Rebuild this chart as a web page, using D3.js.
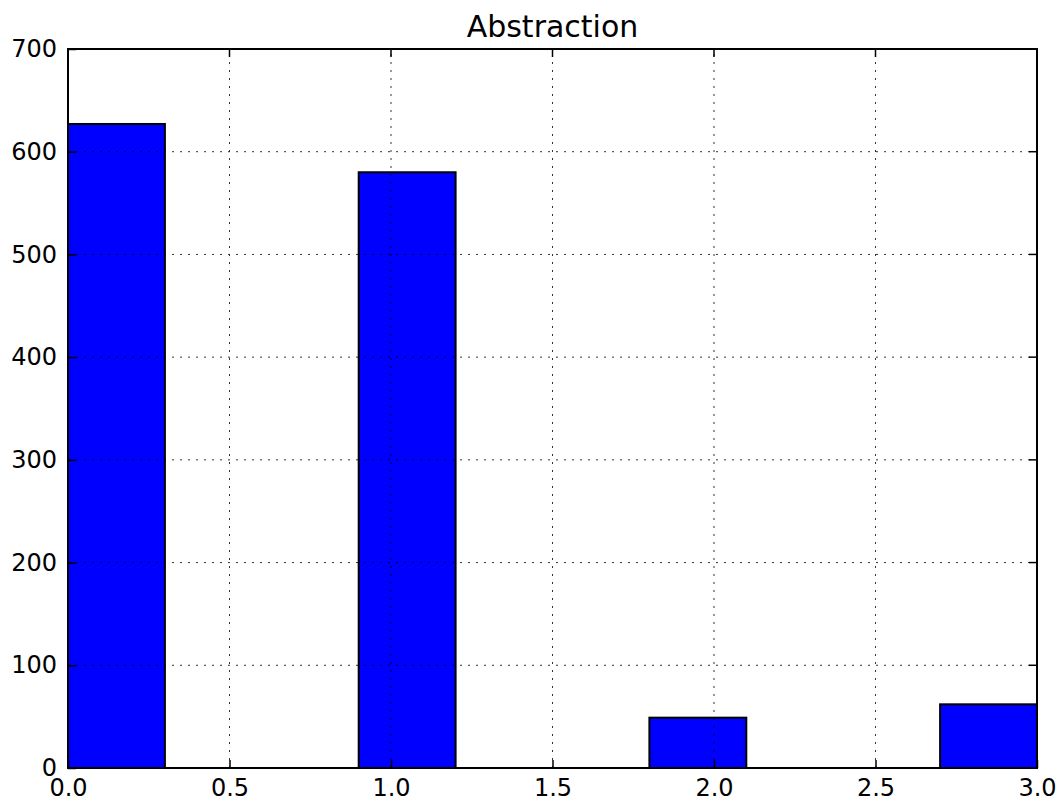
<!DOCTYPE html>
<html>
<head>
<meta charset="utf-8">
<script src="https://cdn.jsdelivr.net/npm/d3@7"></script>
<style>
  body { margin: 0; background: #fff; }
  text { font-family: "DejaVu Sans", sans-serif; fill: #000; }
</style>
</head>
<body>
<div id="chart"></div>
<script>
// histogram bins (edges) and counts
var binEdges = [0.0, 0.3, 0.6, 0.9, 1.2, 1.5, 1.8, 2.1, 2.4, 2.7, 3.0];
var counts   = [627, 0, 0, 580, 0, 0, 49, 0, 0, 62];
var xTicks   = [0.0, 0.5, 1.0, 1.5, 2.0, 2.5, 3.0];
var yTicks   = [0, 100, 200, 300, 400, 500, 600, 700];
var title    = "Abstraction";

var width = 1058, height = 801;
var margin = {top: 49, right: 21, bottom: 33, left: 68};
var tickLen = 8;

var svg = d3.select("#chart").append("svg")
    .attr("width", width)
    .attr("height", height);

var x = d3.scaleLinear().domain([0, 3]).range([margin.left, width - margin.right]);
var y = d3.scaleLinear().domain([0, 700]).range([height - margin.bottom, margin.top]);

var bins = counts.map(function(c, i) {
  return {x0: binEdges[i], x1: binEdges[i + 1], n: c};
});

// bars
svg.append("g").selectAll("rect")
    .data(bins.filter(function(d) { return d.n > 0; }))
    .enter().append("rect")
    .attr("x", function(d) { return x(d.x0); })
    .attr("y", function(d) { return y(d.n); })
    .attr("width", function(d) { return x(d.x1) - x(d.x0); })
    .attr("height", function(d) { return y(0) - y(d.n); })
    .attr("fill", "#0000ff")
    .attr("stroke", "#000")
    .attr("stroke-width", 2);

// grid (drawn above bars, classic style)
var grid = svg.append("g").attr("stroke", "#000").attr("stroke-width", 1)
    .attr("stroke-dasharray", "2,6").attr("opacity", 0.8);
grid.selectAll(".gx").data(xTicks.slice(1, -1)).enter().append("line")
    .attr("x1", function(d) { return x(d); }).attr("x2", function(d) { return x(d); })
    .attr("y1", y(0)).attr("y2", y(700));
grid.selectAll(".gy").data(yTicks.slice(1, -1)).enter().append("line")
    .attr("y1", function(d) { return y(d); }).attr("y2", function(d) { return y(d); })
    .attr("x1", x(0)).attr("x2", x(3));

// axes with inward ticks
var xAxis = d3.axisBottom(x).tickValues(xTicks).tickFormat(d3.format(".1f"))
    .tickSizeInner(-tickLen).tickSizeOuter(0).tickPadding(11);
var yAxis = d3.axisLeft(y).tickValues(yTicks).tickFormat(d3.format("d"))
    .tickSizeInner(-tickLen).tickSizeOuter(0).tickPadding(11);

var gx = svg.append("g").attr("transform", "translate(0," + y(0) + ")").call(xAxis);
var gy = svg.append("g").attr("transform", "translate(" + x(0) + ",0)").call(yAxis);
[gx, gy].forEach(function(g) {
  g.select(".domain").remove();
  g.selectAll("text").style("font-size", "24px").attr("fill", "#000");
  g.selectAll("line").attr("stroke", "#000").attr("stroke-width", 1.5);
});
gx.selectAll("text").attr("y", 10).attr("dy", "0.76em");

// top/right tick marks
svg.append("g").selectAll("line").data(xTicks).enter().append("line")
    .attr("x1", function(d) { return x(d); }).attr("x2", function(d) { return x(d); })
    .attr("y1", y(700)).attr("y2", y(700) + tickLen)
    .attr("stroke", "#000").attr("stroke-width", 1.5);
svg.append("g").selectAll("line").data(yTicks).enter().append("line")
    .attr("y1", function(d) { return y(d); }).attr("y2", function(d) { return y(d); })
    .attr("x1", x(3)).attr("x2", x(3) - tickLen)
    .attr("stroke", "#000").attr("stroke-width", 1.5);

// frame
svg.append("rect")
    .attr("x", x(0)).attr("y", y(700))
    .attr("width", x(3) - x(0)).attr("height", y(0) - y(700))
    .attr("fill", "none").attr("stroke", "#000").attr("stroke-width", 2);

svg.append("text")
    .attr("x", (x(0) + x(3)) / 2)
    .attr("y", 37)
    .attr("text-anchor", "middle")
    .style("font-size", "30px")
    .text(title);
</script>
</body>
</html>
